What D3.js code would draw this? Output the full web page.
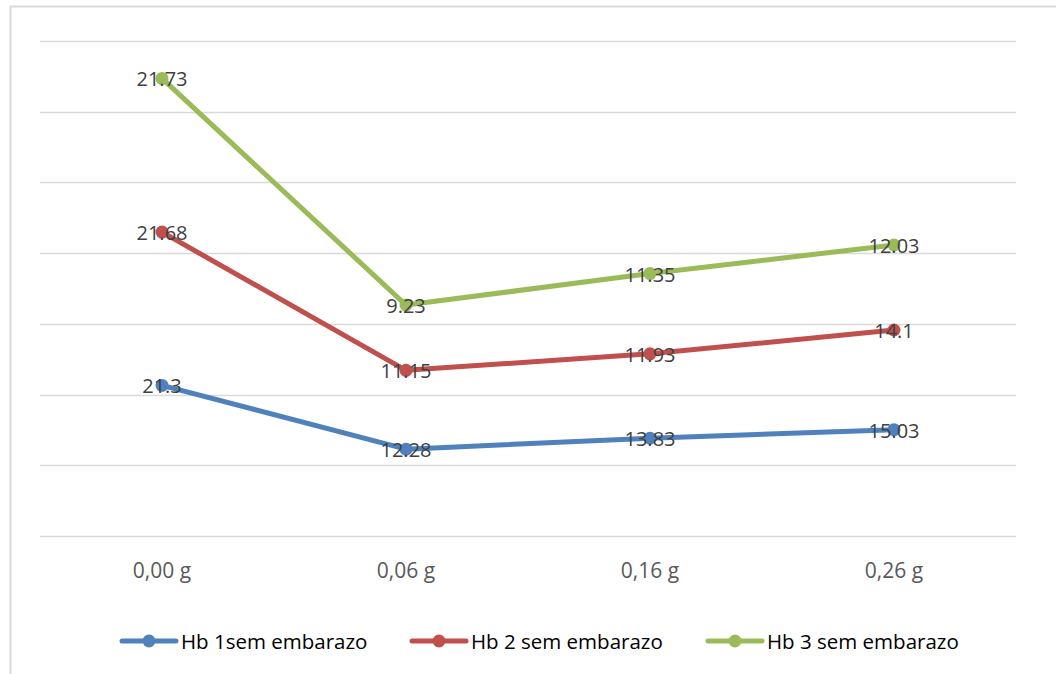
<!DOCTYPE html>
<html>
<head>
<meta charset="UTF-8"/>
<script src="https://cdn.jsdelivr.net/npm/d3@7"></script>
<style>
  body { margin: 0; background: #fff; }
  text { font-family: "Open Sans", "Noto Sans", sans-serif; }
</style>
</head>
<body>
<svg id="fig" width="1056" height="674"></svg>
<script>
// categories and series (stacked line chart, labels show own values)
const cats = ["0,00 g", "0,06 g", "0,16 g", "0,26 g"]
const names = ["Hb 1sem embarazo", "Hb 2 sem embarazo", "Hb 3 sem embarazo"]
const hb1 = [21.3, 12.28, 13.83, 15.03]
const hb2 = [21.68, 11.15, 11.93, 14.1]
const hb3 = [21.73, 9.23, 11.35, 12.03]
const colors = ["#4f81bd", "#c0504d", "#9bbb59"]
const yTicks = [0, 10, 20, 30, 40, 50, 60, 70]

const svg = d3.select("#fig")

// chart frame
svg.append("rect")
  .attr("x", 10.5).attr("y", 6.5)
  .attr("width", 1100).attr("height", 700)
  .attr("fill", "none").attr("stroke", "#d9d9d9").attr("stroke-width", 2)

const x = d3.scaleBand().domain(cats).range([40, 1016])
const y = d3.scaleLinear().domain([0, 70]).range([536, 41])

// gridlines
svg.append("g").selectAll("line")
  .data(yTicks)
  .join("line")
  .attr("x1", 40).attr("x2", 1016)
  .attr("y1", d => Math.round(y(d)) + 0.5).attr("y2", d => Math.round(y(d)) + 0.5)
  .attr("stroke", "#d9d9d9").attr("stroke-width", 1.5)

// category labels
const xAxis = svg.append("g")
  .attr("transform", "translate(0,536)")
  .call(d3.axisBottom(x).tickSize(0).tickPadding(27))
xAxis.select(".domain").remove()
xAxis.selectAll("text")
  .attr("font-size", 21).attr("fill", "#595959")
  .style("font-family", "'Open Sans', sans-serif")

// stack the series
const raw = [hb1, hb2, hb3]
let acc = cats.map(() => 0)
const series = raw.map((vals, i) => {
  acc = acc.map((a, j) => a + vals[j])
  return { name: names[i], color: colors[i], pts: cats.map((c, j) => ({ c, v: vals[j], s: acc[j] })) }
})

const line = d3.line().x(d => x(d.c) + x.bandwidth() / 2).y(d => y(d.s))

const g = svg.append("g")
series.forEach(s => {
  g.append("path")
    .attr("d", line(s.pts))
    .attr("fill", "none").attr("stroke", s.color)
    .attr("stroke-width", 5).attr("stroke-linejoin", "round").attr("stroke-linecap", "round")
})
series.forEach(s => {
  g.selectAll(null).data(s.pts).join("circle")
    .attr("cx", d => x(d.c) + x.bandwidth() / 2)
    .attr("cy", d => y(d.s))
    .attr("r", 6.5).attr("fill", s.color)
})
series.forEach(s => {
  g.selectAll(null).data(s.pts).join("text")
    .attr("x", d => x(d.c) + x.bandwidth() / 2)
    .attr("y", d => y(d.s) + 8)
    .attr("text-anchor", "middle")
    .attr("font-size", 20).attr("fill", "#404040")
    .text(d => d.v)
})

// legend
const legX = [122, 412, 708]
const leg = svg.append("g").attr("transform", "translate(0,641)")
series.forEach((s, i) => {
  const lg = leg.append("g").attr("transform", `translate(${legX[i]},0)`)
  lg.append("line").attr("x1", 0).attr("x2", 54).attr("y1", 0).attr("y2", 0)
    .attr("stroke", s.color).attr("stroke-width", 5).attr("stroke-linecap", "round")
  lg.append("circle").attr("cx", 27).attr("cy", 0).attr("r", 6.5).attr("fill", s.color)
  lg.append("text").attr("x", 59).attr("y", 7.5)
    .attr("font-size", 20.5).attr("fill", "#000")
    .text(s.name)
})
</script>
</body>
</html>
